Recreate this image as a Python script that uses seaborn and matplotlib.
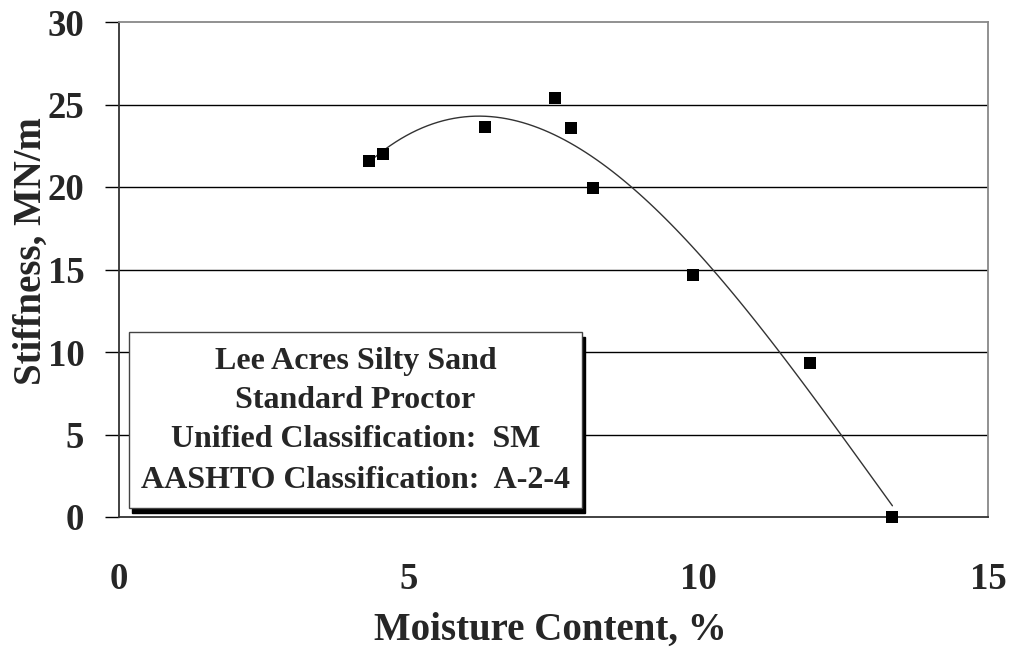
import matplotlib
matplotlib.use("Agg")
import matplotlib.pyplot as plt
from matplotlib.patches import Rectangle
from matplotlib.ticker import MultipleLocator
import seaborn as sns
import pandas as pd

# Data
moisture = [4.32, 4.55, 6.31, 7.52, 7.80, 8.19, 9.90, 11.93, 13.35]
stiffness = [21.6, 22.0, 23.65, 25.4, 23.55, 19.95, 14.65, 9.35, 0.0]
x_ticks = [0, 5, 10, 15]
y_ticks = [0, 5, 10, 15, 20, 25, 30]
box_lines = ["Lee Acres Silty Sand", "Standard Proctor",
             "Unified Classification:  SM", "AASHTO Classification:  A-2-4"]
x_label = "Moisture Content, %"
y_label = "Stiffness, MN/m"

df = pd.DataFrame({"moisture": moisture, "stiffness": stiffness})

sns.set_style("white")
plt.rcParams["font.family"] = ["Liberation Serif", "DejaVu Serif"]
plt.rcParams["font.weight"] = "bold"

W, H = 1014, 649
fig = plt.figure(figsize=(W / 100, H / 100), dpi=100)
ax = fig.add_axes([119 / W, 1 - 517 / H, 869 / W, 495 / H])

sns.regplot(data=df, x="moisture", y="stiffness", order=3, ci=None, ax=ax,
            marker="s", truncate=True,
            scatter_kws={"s": 68, "color": "black", "alpha": 1.0,
                         "linewidths": 0, "zorder": 5, "clip_on": False},
            line_kws={"color": "#333333", "lw": 1.0, "zorder": 4})

ax.set_xlim(0, 15)
ax.set_ylim(0, 30)
ax.set_xticks(x_ticks)
ax.set_yticks(y_ticks)
ax.xaxis.set_minor_locator(MultipleLocator(1))

for yv in y_ticks[1:-1]:
    ax.axhline(yv, color="black", lw=1.0, zorder=1)

for side in ["top", "right"]:
    ax.spines[side].set_color("#888888")
    ax.spines[side].set_linewidth(1.3)
for side in ["left", "bottom"]:
    ax.spines[side].set_color("#333333")
    ax.spines[side].set_linewidth(1.3)

ax.tick_params(axis="x", which="major", direction="out", length=9.5, width=1.0,
               color="black", labelsize=26.5, pad=23)
ax.tick_params(axis="x", which="minor", direction="out", length=6, width=0.9,
               color="black")
ax.tick_params(axis="y", which="major", direction="out", length=10, width=1.0,
               color="black", labelsize=26.5, pad=15, left=True)
for lab in ax.get_xticklabels() + ax.get_yticklabels():
    lab.set_fontweight("bold")

ax.set_xlabel(x_label, fontsize=28, fontweight="bold")
ax.set_ylabel(y_label, fontsize=28, fontweight="bold")
ax.xaxis.set_label_coords(0.496, -0.192)
ax.yaxis.set_label_coords(-0.080, 0.537)

# Text box with shadow
bx0, bx1 = (129 - 119) / 869, (582 - 119) / 869
by0, by1 = (517 - 508) / 495, (517 - 332) / 495
sdx, sdy = 3 / 869, 5 / 495
ax.add_patch(Rectangle((bx0 + sdx, by0 - sdy), bx1 - bx0, by1 - by0,
                       transform=ax.transAxes, facecolor="black",
                       edgecolor="black", zorder=6, clip_on=False))
ax.add_patch(Rectangle((bx0, by0), bx1 - bx0, by1 - by0,
                       transform=ax.transAxes, facecolor="white",
                       edgecolor="#444444", lw=1.0, zorder=7, clip_on=False))
cx = (bx0 + bx1) / 2
baselines = [369, 408, 447, 488]
for txt, b in zip(box_lines, baselines):
    ax.text(cx, (517 - b) / 495, txt, transform=ax.transAxes, ha="center",
            va="baseline", fontsize=23, fontweight="bold", zorder=8)

fig.savefig("out.png", dpi=100)
